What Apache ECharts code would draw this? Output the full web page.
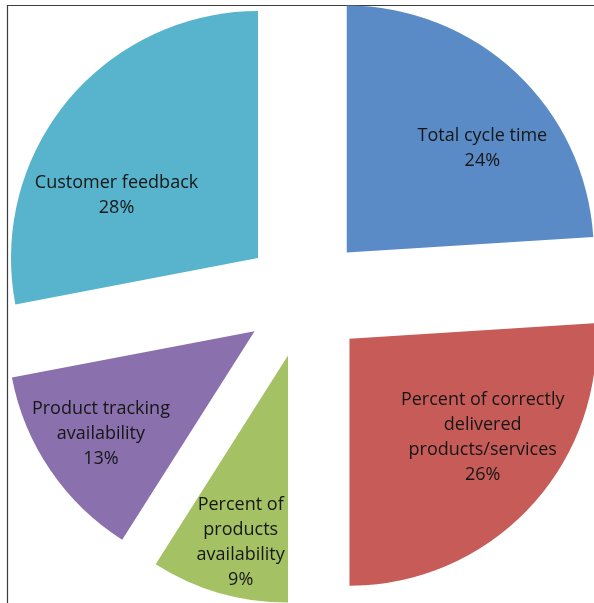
<!DOCTYPE html>
<html>
<head>
<meta charset="utf-8">
<script src="https://cdn.jsdelivr.net/npm/echarts@6/dist/echarts.min.js"></script>
<style>
  html, body { margin: 0; padding: 0; background: #fff; }
  #chart { width: 594px; height: 603px; }
</style>
</head>
<body>
<div id="chart"></div>
<script>
// Slice names, in clockwise order from 12 o'clock
const categories = [
  'Total cycle time',
  'Percent of correctly delivered products/services',
  'Percent of products availability',
  'Product tracking availability',
  'Customer feedback'
];
// Wrapped label text for each slice
const labelNames = [
  'Total cycle time',
  'Percent of correctly\ndelivered\nproducts/services',
  'Percent of\nproducts\navailability',
  'Product tracking\navailability',
  'Customer feedback'
];
// Share of each slice, in percent
const shares = [24, 26, 9, 13, 28];

const colors = ['#5B8BC6', '#C75B58', '#A4C263', '#8A70AC', '#57B4CC'];
// Per-slice label nudges [dx, dy] from the default inside position
const labelNudge = [[49, -12], [41, 12], [-12, 65], [-49, 31], [-44, 18]];

const chart = echarts.init(document.getElementById('chart'));
chart.setOption({
  animation: false,
  graphic: [{
    type: 'rect',
    shape: { x: 7.5, y: 5.5, width: 700, height: 700 },
    style: { fill: 'none', stroke: '#3c3c3c', lineWidth: 1.2 },
    silent: true
  }],
  series: [{
    type: 'pie',
    center: [305, 297],
    radius: 247,
    startAngle: 90,
    clockwise: true,
    selectedMode: 'multiple',
    selectedOffset: 61,
    avoidLabelOverlap: false,
    emphasis: { disabled: true },
    itemStyle: { borderWidth: 0 },
    label: {
      show: true,
      position: 'inside',
      color: '#161616',
      fontFamily: 'Open Sans',
      fontSize: 18,
      lineHeight: 25,
      align: 'center',
      formatter: p => labelNames[p.dataIndex] + '\n' + p.value + '%'
    },
    labelLine: { show: false },
    labelLayout: p => ({ dx: labelNudge[p.dataIndex][0], dy: labelNudge[p.dataIndex][1] }),
    data: categories.map((name, i) => ({
      name,
      value: shares[i],
      selected: true,
      itemStyle: { color: colors[i] }
    }))
  }]
});
</script>
</body>
</html>
